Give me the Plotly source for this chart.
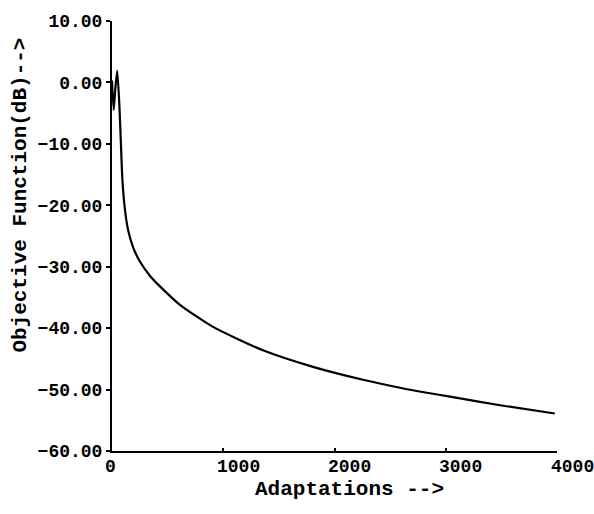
import plotly.graph_objects as go

# Data
adaptations = [0, 15, 30, 47, 67, 81, 94, 117, 144, 189, 252, 342, 431, 611, 908,
               1357, 1807, 2256, 2589, 2858, 3038, 3488, 3980]
objective_db = [0.3, -4.5, -1.0, 1.9, -4.0, -10.4, -16.0, -20.8, -24.0, -26.8,
                -29.2, -31.5, -33.2, -36.2, -39.8, -43.6, -46.3, -48.4, -49.7,
                -50.6, -51.15, -52.55, -53.9]

x_tick_vals = [0, 1000, 2000, 3000, 4000]
x_tick_text = ["0", "1000", "2000", "3000", "4000"]
y_tick_vals = [10, 0, -10, -20, -30, -40, -50, -60]

FONT = "Liberation Mono"

fig = go.Figure()
fig.add_trace(go.Scatter(
    x=adaptations, y=objective_db, mode="lines",
    line=dict(color="black", width=2.2, shape="spline", smoothing=0.6),
    showlegend=False, hoverinfo="skip"))

fig.update_layout(
    width=594, height=514,
    margin=dict(l=112, r=37, t=12, b=63),
    paper_bgcolor="white", plot_bgcolor="white",
    font=dict(family=FONT, color="black", size=18, weight=700),
    xaxis=dict(range=[0, 4000], tickvals=x_tick_vals, showticklabels=False,
               ticks="inside", ticklen=3, tickwidth=2, tickcolor="black",
               showline=True, linecolor="black", linewidth=2,
               showgrid=False, zeroline=False),
    yaxis=dict(range=[-60, 10], tickvals=y_tick_vals, tickformat=".2f",
               ticks="outside", ticklen=4, tickwidth=2, tickcolor="black",
               showline=True, linecolor="black", linewidth=2,
               showgrid=False, zeroline=False,
               tickfont=dict(family=FONT, size=18, weight=700)),
)

# y-axis title (placed higher than centre, as in the reference)
fig.add_annotation(x=0, y=0.594, xref="paper", yref="paper",
                   text="Objective Function(dB)-->", textangle=-90,
                   showarrow=False, xanchor="center", yanchor="middle",
                   xshift=-91, font=dict(family=FONT, size=21, weight=700))

# x tick labels (left-aligned at the ticks in the reference)
for v, t in zip(x_tick_vals, x_tick_text):
    fig.add_annotation(x=v, y=0, xref="x", yref="paper", text=t,
                       showarrow=False, xanchor="center", yanchor="top",
                       xshift=(-2 if len(t) == 1 else 15), yshift=-4,
                       font=dict(family=FONT, size=18, weight=700))

fig.add_annotation(x=0.5, y=0, xref="paper", yref="paper", text="Adaptations -->",
                   showarrow=False, xanchor="center", yanchor="top", yshift=-25,
                   xshift=15, font=dict(family=FONT, size=21, weight=700))

fig.write_html("out.html")
